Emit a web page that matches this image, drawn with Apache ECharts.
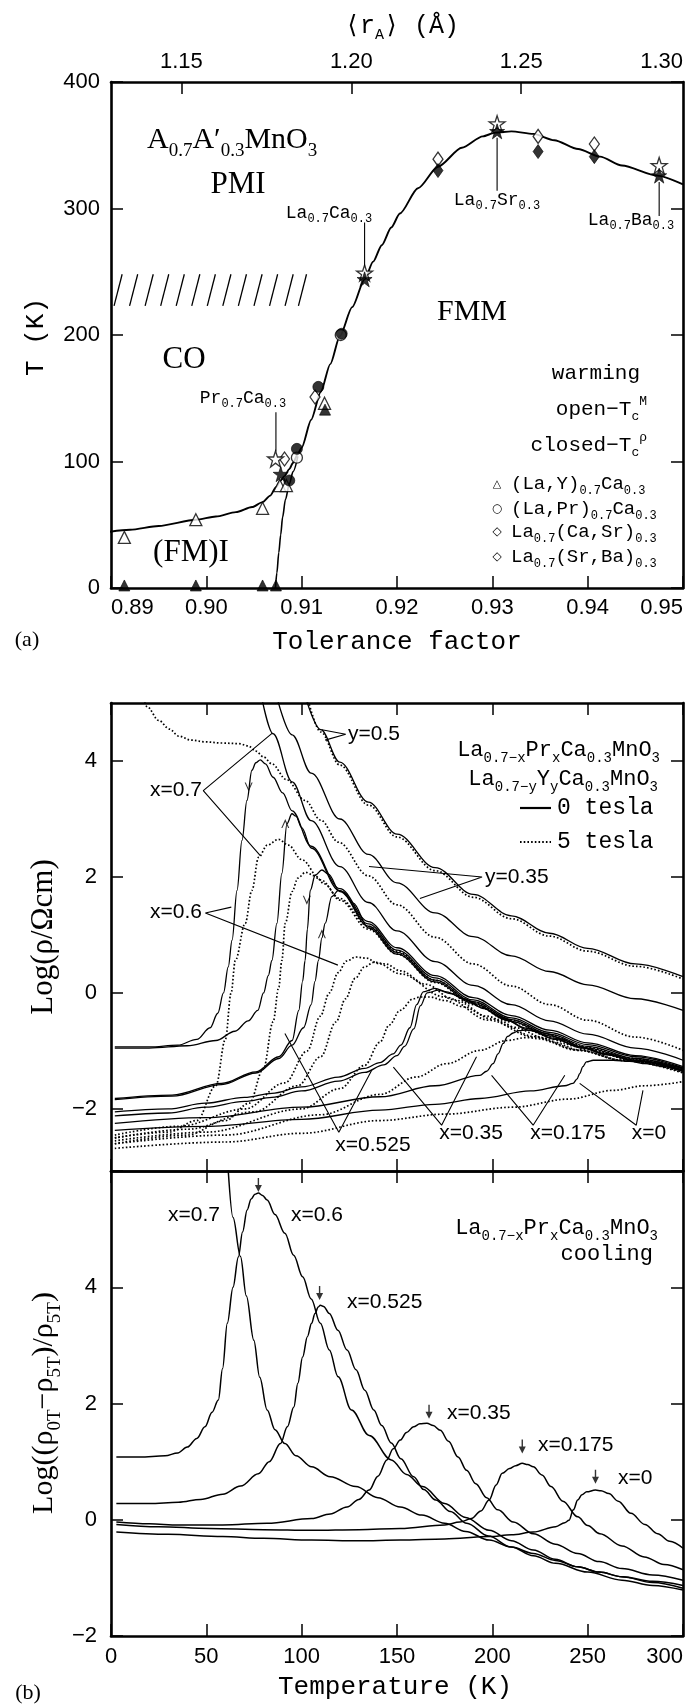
<!DOCTYPE html>
<html><head><meta charset="utf-8">
<script src="https://cdn.jsdelivr.net/npm/echarts@6/dist/echarts.min.js"></script>
<style>html,body{margin:0;padding:0;background:#fff}#c{width:696px;height:1708px}</style>
</head><body><div id="c"></div>
<script>
// ================= DATA =================
// Panel (a): Tc vs tolerance factor
const tolRange = [0.89, 0.95];
const tolTickLabels = ['0.89','0.90','0.91','0.92','0.93','0.94','0.95'];
const tRange = [0, 400];
const rARange = [1.1293, 1.2976];
const rATickValues = [1.15, 1.20, 1.25];
const rALabelValues = [1.15, 1.20, 1.25, 1.2976];
const rALabelTexts = ['1.15', '1.20', '1.25', '1.30'];

const tcCurveMain = [[0.8890,43.5],[0.8920,46],[0.8950,49],[0.8989,53.9],[0.9010,56.5],[0.9031,60],[0.9048,64],[0.9059,67.9],[0.9067,73],[0.9073,79.7],[0.9078,85],[0.9082,88.5],[0.9087,94],[0.9091,99],[0.9096,106],[0.9100,111],[0.9110,133],[0.9120,155],[0.9130,177],[0.9140,199],[0.9153,222],[0.9166,244],[0.9175,258],[0.9184,271],[0.9194,285],[0.9203,296],[0.9222,316],[0.9243,333],[0.9268,348],[0.9290,357],[0.9303,360],[0.9320,361],[0.9343,359],[0.9365,354],[0.9390,347],[0.9413,341],[0.9436,334],[0.9473,326],[0.9500,319]];
const tcCurveFM = [[0.90725,0],[0.9074,12],[0.9076,28],[0.9078,42],[0.9080,56],[0.9083,70],[0.9087,82],[0.9091,92],[0.9096,104]];
const openStars = [[0.90726,102],[0.9166,249],[0.9305,367],[0.9475,334]];
const filledStars = [[0.9078,90],[0.9166,244],[0.9305,361],[0.9475,326]];
const openTriangles = [[0.8914,40],[0.8989,54],[0.9059,63],[0.9077,81],[0.9084,81],[0.9124,146]];
const filledTriangles = [[0.8914,2],[0.8989,2],[0.9059,2],[0.9073,2],[0.91245,141]];
const openCircles = [[0.9095,103],[0.9141,200]];
const filledCircles = [[0.9087,85],[0.9095,110],[0.91175,159],[0.9142,201]];
const openDiamonds = [[0.9082,102],[0.9114,151],[0.9243,339],[0.9348,357],[0.9407,351]];
const filledDiamonds = [[0.9243,330],[0.9348,345],[0.9407,341]];
const hatchTops = [0.89117,0.89280,0.89443,0.89606,0.89769,0.89932,0.90095,0.90258,0.90421,0.90585,0.90748,0.90911,0.91051];
const hatchBand = [223, 248];
const hatchSlant = 0.00085;
const ptrLaCa = [[0.9166,289],[0.9166,254]];
const ptrLaSr = [[0.9305,356],[0.9305,314]];
const ptrLaBa = [[0.9475,321],[0.9475,294]];
const ptrPrCa = [[0.9073,139],[0.9073,108]];

// Panel (b) upper: Log(rho) vs T
const tempRange = [0, 300];
const upLogRange = [-3.07, 5];
const upLogTicks = [-2, 0, 2, 4];
const loLogRange = [-2, 6];

const rhoY05_0T = [[102,5.1],[110,4.54],[120,3.98],[135,3.29],[150,2.74],[170,2.16],[190,1.70],[210,1.33],[230,1.03],[250,0.77],[275,0.50],[300,0.28]];
const rhoY05_5T = [[103,5.1],[110,4.5],[120,3.93],[135,3.24],[150,2.69],[170,2.11],[190,1.65],[210,1.28],[230,0.98],[250,0.72],[275,0.46],[300,0.24]];
const rhoY035_0T = [[87,5.1],[95,4.45],[105,3.79],[120,3.0],[135,2.39],[150,1.9],[170,1.38],[190,0.97],[210,0.64],[230,0.37],[250,0.14],[275,-0.1],[300,-0.3]];
const rhoX07_0T = [[79,5.1],[85,4.47],[95,3.64],[105,2.97],[120,2.18],[135,1.56],[150,1.07],[170,0.54],[190,0.13],[210,-0.20],[230,-0.48],[250,-0.71],[275,-0.95],[300,-1.16]];
const rhoX06_cool = [[2,-0.93],[20,-0.93],[35,-0.9],[45,-0.8],[52,-0.6],[56,-0.35],[59,0.0],[61.5,0.45],[63.5,0.91],[66.1,1.77],[68.7,2.63],[71.3,3.32],[73.9,3.84],[76,3.97],[78.3,4.02],[81,3.95],[85,3.72],[90,3.45],[95,3.14],[105,2.53],[120,1.80],[135,1.23],[150,0.78],[170,0.30],[190,-0.08],[210,-0.39],[230,-0.64],[250,-0.86],[275,-1.08],[300,-1.27]];
const rhoX06_warm = [[2,-0.95],[20,-0.95],[40,-0.91],[55,-0.82],[65,-0.66],[72,-0.48],[77,-0.3],[80,0.0],[82.5,0.3],[84.4,0.56],[87,1.2],[89.6,2.06],[92.3,2.92],[94.9,3.09],[97,3.05],[100,2.85],[105,2.5],[120,1.76],[135,1.19],[150,0.74],[170,0.26],[190,-0.12],[210,-0.43],[230,-0.68],[250,-0.89],[275,-1.1],[300,-1.29]];
const rhoX0525_cool = [[2,-1.82],[32,-1.76],[58,-1.56],[76,-1.36],[88,-1.1],[95,-0.82],[98.5,-0.3],[100.5,0.2],[101.8,0.56],[103,1.1],[104.5,1.77],[107.1,2.03],[110.6,2.12],[114,2.05],[120,1.75],[135,1.15],[150,0.70],[170,0.22],[190,-0.15],[210,-0.46],[230,-0.71],[250,-0.92],[275,-1.13],[300,-1.31]];
const rhoX0525_warm = [[2,-1.84],[32,-1.78],[58,-1.58],[76,-1.38],[88,-1.13],[95,-0.9],[101,-0.6],[105,-0.2],[107,0.2],[108.8,0.56],[110.6,0.95],[112.3,1.2],[115.8,1.66],[119.3,1.77],[122,1.74],[127,1.55],[135,1.12],[150,0.67],[170,0.19],[190,-0.18],[210,-0.49],[230,-0.74],[250,-0.95],[275,-1.16],[300,-1.34]];
const rhoX035_0T_a = [[2,-2.05],[30,-2.0],[49.5,-1.9],[70,-1.8],[84.4,-1.73],[100,-1.62],[119.3,-1.45],[133,-1.3],[141,-1.2],[148,-1.05],[152,-0.9],[156.8,-0.6],[160.3,-0.2],[163.8,0.02],[169.9,0.08],[176,0.02],[185,-0.1],[193.5,-0.24],[205,-0.42],[218,-0.61],[232,-0.78],[246,-0.93],[260,-1.05],[275,-1.16],[300,-1.33]];
const rhoX035_0T_b = [[2,-2.12],[30,-2.07],[49.5,-1.97],[70,-1.87],[84.4,-1.8],[100,-1.69],[119.3,-1.52],[133,-1.37],[143,-1.24],[150,-1.08],[154,-0.92],[158.8,-0.62],[162.3,-0.22],[165.8,0.0],[171.9,0.05],[178,-0.01],[187,-0.13],[195.5,-0.27],[206,-0.45],[219,-0.64],[233,-0.8],[247,-0.95],[261,-1.07],[276,-1.18],[300,-1.35]];
const rhoX0175_0T = [[2,-2.25],[50,-2.15],[100,-1.97],[141,-1.79],[170,-1.6],[193.5,-1.42],[197,-1.35],[200.4,-1.22],[203,-1.05],[205.7,-0.87],[208,-0.75],[210.9,-0.69],[214,-0.65],[217.9,-0.64],[223,-0.66],[228.4,-0.7],[237,-0.8],[245.8,-0.93],[260,-1.06],[275,-1.17],[300,-1.3]];
const rhoX0_0T = [[2,-2.37],[50,-2.3],[100,-2.18],[141,-2.02],[170,-1.92],[193.5,-1.82],[220,-1.69],[238,-1.6],[242.3,-1.56],[244.5,-1.48],[245.8,-1.39],[247.5,-1.27],[249.3,-1.19],[253,-1.16],[263.3,-1.16],[272,-1.18],[280.7,-1.22],[290,-1.27],[300,-1.33]];
const rhoX07_5T_a = [[16,5.2],[19.1,4.93],[25,4.7],[30.7,4.55],[35.5,4.43],[42,4.36],[49.5,4.33],[58,4.31],[67,4.3],[72,4.26],[76,4.17],[80,4.07],[84.4,3.95],[92,3.68],[101.8,3.32],[110,2.98],[119.3,2.6],[135,2.02],[150,1.52],[170,0.96],[190,0.5],[210,0.12],[230,-0.2],[250,-0.47],[275,-0.76],[300,-0.99]];
const rhoX07_5T_b = [[2,-2.5],[30,-2.4],[45,-2.2],[55,-1.6],[60,-0.8],[63,0.0],[65.2,0.56],[70.4,1.2],[73.9,1.77],[77.4,2.34],[82,2.55],[87.9,2.65],[93,2.55],[100,2.3],[110,1.95],[120,1.63],[135,1.15],[150,0.72],[170,0.22],[190,-0.16],[210,-0.47],[230,-0.72],[250,-0.94],[275,-1.14],[300,-1.3]];
const rhoX06_5T = [[2,-2.6],[40,-2.45],[60,-2.2],[72.6,-1.9],[80,-1.3],[85,-0.5],[88,0.1],[89.6,0.56],[91.4,1.2],[95,1.75],[98,1.98],[102,2.08],[107,2.02],[112,1.88],[120,1.6],[135,1.1],[150,0.67],[170,0.18],[190,-0.2],[210,-0.5],[230,-0.75],[250,-0.97],[275,-1.18],[300,-1.35]];
const rhoX0525_5T_a = [[2,-2.45],[35.4,-2.3],[70.3,-2.0],[91.2,-1.55],[102.9,-1.0],[109.8,-0.4],[114.5,0.0],[119.1,0.35],[123.5,0.55],[128.5,0.62],[134,0.6],[140,0.51],[151.7,0.33],[175,-0.07],[198.3,-0.47],[221.5,-0.76],[244.8,-0.99],[268,-1.16],[300,-1.36]];
const rhoX0525_5T_b = [[2,-2.5],[40,-2.35],[75,-2.05],[98,-1.6],[110,-1.1],[118,-0.5],[123,-0.1],[128,0.25],[133,0.45],[138,0.53],[144,0.5],[152,0.38],[165,0.15],[180,-0.12],[200,-0.45],[222,-0.75],[245,-0.98],[268,-1.16],[300,-1.38]];
const rhoX035_5T = [[2,-2.55],[50,-2.4],[100,-2.0],[120,-1.65],[133,-1.25],[141,-0.85],[146,-0.55],[151.6,-0.3],[158.6,-0.1],[162,-0.07],[167.3,-0.07],[175,-0.13],[184.8,-0.24],[197,-0.4],[210.9,-0.59],[228,-0.78],[245.8,-0.93],[270,-1.12],[300,-1.3]];
const rhoX0175_5T = [[2,-2.6],[60,-2.45],[110,-2.1],[141,-1.75],[160,-1.45],[176,-1.22],[193.5,-0.99],[207.4,-0.82],[217.9,-0.77],[225,-0.79],[232,-0.85],[245.8,-0.99],[270,-1.17],[300,-1.36]];
const rhoX0_5T = [[2,-2.68],[60,-2.57],[100,-2.42],[141,-2.2],[175,-2.09],[210.9,-1.97],[240,-1.83],[263.3,-1.68],[280,-1.6],[300,-1.53]];
const arrowsDown = [[72.2,3.55],[102.7,1.6]];
const arrowsUp = [[91.4,2.92],[110.6,1.02]];
const ptrX07 = [[84.6,4.48],[48.4,3.49],[78.3,2.37]];
const ptrX06 = [[63.1,1.48],[49.5,1.38],[119,0.48]];
const ptrY035 = [[135.3,2.18],[194.6,2.0],[162,1.63]];
const ptrY05 = [[110.6,4.54],[123.1,4.46],[112.3,4.36]];
const vX0525 = [[91.2,-0.7],[119.5,-2.4],[136.8,-1.33]];
const vX035 = [[148.1,-1.28],[173.4,-2.28],[191.7,-1.1]];
const vX0175 = [[199.6,-1.42],[221.4,-2.28],[238,-1.42]];
const vX0 = [[245.8,-1.56],[275.5,-2.28],[279,-1.68]];

// Panel (b) lower: Log((rho0T-rho5T)/rho5T) vs T, cooling
const mrX07 = [[61.4,6.05],[64,5.2],[67.9,4.53],[71,3.85],[74.9,3.09],[78,2.45],[81.9,1.89],[86,1.55],[91.2,1.31],[97,1.1],[105.2,0.91],[115,0.74],[128.4,0.57],[140,0.38],[151.7,0.22],[163,0.08],[175,-0.06],[186,-0.2],[198.3,-0.35],[210,-0.47],[221.5,-0.58],[233,-0.7],[244.8,-0.81],[256,-0.9],[268,-0.98],[284,-1.08],[300,-1.18]];
const mrX06 = [[2.8,1.08],[15,1.08],[28.4,1.1],[35,1.15],[40,1.25],[45,1.4],[49.3,1.6],[53,1.85],[56.3,2.06],[58.5,2.6],[61,3.38],[64,4.0],[66.8,4.52],[69,4.95],[71.4,5.33],[73.5,5.52],[75.5,5.6],[77.3,5.62],[79.5,5.58],[81.9,5.5],[86,5.25],[91.2,4.93],[95.8,4.55],[100.5,4.18],[105,3.8],[109.8,3.38],[114.5,2.92],[119.1,2.46],[126.1,1.89],[135.4,1.45],[147,1.03],[155,0.78],[163.4,0.57],[175,0.28],[186,0.04],[198.3,-0.18],[210,-0.36],[221.5,-0.52],[233,-0.68],[244.8,-0.81],[256,-0.9],[268,-0.98],[284,-1.06],[300,-1.13]];
const mrX0525 = [[2.8,0.28],[20,0.28],[35.4,0.3],[47,0.35],[58.6,0.44],[68,0.58],[77.3,0.79],[83,1.0],[88.9,1.31],[92.5,1.6],[95.9,1.94],[98,2.35],[100.5,2.8],[103,3.15],[105.2,3.38],[107,3.55],[108.7,3.66],[109.8,3.69],[111.5,3.67],[114.5,3.55],[119,3.26],[123.8,2.92],[128.5,2.58],[133.1,2.23],[137.8,1.89],[142,1.62],[147,1.32],[152,1.05],[158.7,0.74],[164,0.52],[170.3,0.34],[178,0.14],[186.6,-0.06],[198,-0.28],[209.9,-0.47],[221.5,-0.62],[233.2,-0.75],[250,-0.9],[268,-1.04],[284,-1.13],[300,-1.21]];
const mrX035 = [[2.8,-0.04],[20,-0.07],[35.4,-0.09],[58.6,-0.09],[81.9,-0.06],[105.2,0.02],[115,0.1],[123.8,0.22],[130,0.35],[135.4,0.51],[140,0.75],[144.7,1.03],[148,1.22],[151.7,1.37],[155,1.5],[158.7,1.6],[162,1.65],[165.7,1.66],[169,1.62],[172.7,1.54],[177,1.35],[182,1.08],[186.5,0.85],[191.3,0.62],[197,0.38],[202.9,0.17],[211,-0.04],[221.5,-0.24],[233,-0.42],[244.8,-0.58],[256,-0.72],[268,-0.84],[284,-0.95],[300,-1.04]];
const mrX0175 = [[2.8,-0.08],[25,-0.12],[51.7,-0.15],[80,-0.17],[105.2,-0.18],[130,-0.17],[151.7,-0.15],[175,-0.09],[183,-0.04],[189,0.02],[194,0.15],[198.3,0.34],[202,0.6],[205.2,0.8],[209,0.88],[212.2,0.93],[215.7,0.97],[218.5,0.95],[221.5,0.91],[226,0.77],[230.8,0.57],[237,0.32],[244.8,0.05],[250,-0.1],[256.4,-0.24],[268,-0.45],[279.7,-0.64],[290,-0.77],[300,-0.86]];
const mrX0 = [[2.8,-0.21],[30,-0.25],[58.6,-0.29],[80,-0.32],[105.2,-0.35],[130,-0.36],[151.7,-0.35],[175,-0.33],[198.3,-0.29],[210,-0.26],[221.5,-0.21],[233.2,-0.12],[238,-0.05],[240.2,-0.01],[242.5,0.17],[244.8,0.34],[247,0.43],[249.5,0.48],[254.1,0.51],[257,0.5],[261.1,0.45],[266,0.32],[272.7,0.11],[280,-0.08],[286.7,-0.24],[293,-0.37],[300,-0.49]];
const peakArrows = [[77.3,5.76],[109.4,3.9],[166.8,1.86],[215.7,1.26],[254.1,0.74]];

// ================= CHART =================
const SANS = 'Liberation Sans, Arial, sans-serif';
const MONO = 'Liberation Mono, Courier New, monospace';
const SERIF = 'Liberation Serif, Times New Roman, serif';
const chart = echarts.init(document.getElementById('c'), null, {renderer: 'canvas', width: 696, height: 1708});

const labelStyle = {show: true, color: '#000', fontFamily: SANS, fontSize: 22};
function ax(o) {
  return Object.assign({
    type: 'value', scale: false,
    axisLine: {show: true, onZero: false, lineStyle: {color: '#000', width: 2.6}},
    axisTick: {show: true, inside: true, length: 12, lineStyle: {color: '#000', width: 1.5}},
    splitLine: {show: false},
    axisLabel: {show: false}
  }, o);
}
const minus = v => (v < 0 ? '\u2212' + Math.abs(v) : String(v));
const tickStyle = {color: '#000', width: 1.5};

const xAxis = [
  ax({gridIndex: 0, position: 'bottom', min: tolRange[0], max: tolRange[1], interval: 0.01,
      axisLabel: Object.assign({}, labelStyle, {margin: 9, alignMinLabel: 'left', alignMaxLabel: 'right',
        formatter: v => tolTickLabels[Math.round((v - tolRange[0]) / 0.01)]})}),
  ax({gridIndex: 0, position: 'top', min: rARange[0], max: rARange[1],
      axisTick: {show: true, inside: true, length: 12, customValues: rATickValues, lineStyle: tickStyle},
      axisLabel: Object.assign({}, labelStyle, {margin: 9, customValues: rALabelValues, alignMaxLabel: 'right',
        formatter: v => rALabelTexts[rALabelValues.findIndex(u => Math.abs(u - v) < 1e-6)]})}),
  ax({gridIndex: 1, position: 'bottom', min: tempRange[0], max: tempRange[1], interval: 50}),
  ax({gridIndex: 1, position: 'top', min: tempRange[0], max: tempRange[1], interval: 50}),
  ax({gridIndex: 2, position: 'bottom', min: tempRange[0], max: tempRange[1], interval: 50,
      axisLabel: Object.assign({}, labelStyle, {margin: 10, alignMaxLabel: 'right'})}),
  ax({gridIndex: 2, position: 'top', min: tempRange[0], max: tempRange[1], interval: 50})
];
const yAxis = [
  ax({gridIndex: 0, position: 'left', min: tRange[0], max: tRange[1], interval: 100,
      axisLabel: Object.assign({}, labelStyle, {margin: 11})}),
  ax({gridIndex: 0, position: 'right', min: tRange[0], max: tRange[1], interval: 100}),
  ax({gridIndex: 1, position: 'left', min: upLogRange[0], max: upLogRange[1],
      axisTick: {show: true, inside: true, length: 12, customValues: upLogTicks, lineStyle: tickStyle},
      axisLabel: Object.assign({}, labelStyle, {margin: 14, customValues: upLogTicks, formatter: minus})}),
  ax({gridIndex: 1, position: 'right', min: upLogRange[0], max: upLogRange[1],
      axisTick: {show: true, inside: true, length: 12, customValues: upLogTicks, lineStyle: tickStyle}}),
  ax({gridIndex: 2, position: 'left', min: loLogRange[0], max: loLogRange[1], interval: 2,
      axisLabel: Object.assign({}, labelStyle, {margin: 14, formatter: v => (v >= loLogRange[1] ? '' : minus(v))})}),
  ax({gridIndex: 2, position: 'right', min: loLogRange[0], max: loLogRange[1], interval: 2})
];

const series = [];
function addLine(data, xi, yi, o = {}) {
  series.push({type: 'line', xAxisIndex: xi, yAxisIndex: yi, data, symbol: 'none', showSymbol: false,
    smooth: o.smooth === undefined ? 0.35 : o.smooth, smoothMonotone: o.smooth === false ? undefined : 'x',
    clip: true, silent: true, z: o.z || 3,
    lineStyle: {color: '#000', width: o.w || 1.3, type: o.dot ? [1.6, 2.1] : 'solid'}});
}
function addScatter(data, symbol, size, filled, z) {
  series.push({type: 'scatter', xAxisIndex: 0, yAxisIndex: 0, data, symbol, symbolSize: size,
    silent: true, z: z, clip: false,
    itemStyle: filled ? {color: '#000', borderColor: '#000', borderWidth: 0.8}
                      : {color: '#fff', borderColor: '#000', borderWidth: 1.3}});
}
const STAR = 'path://M12,0 L14.9,8.6 L24,8.6 L16.6,14 L19.4,22.8 L12,17.4 L4.6,22.8 L7.4,14 L0,8.6 L9.1,8.6 Z';

// Panel (a)
addLine(tcCurveMain, 0, 0, {w: 1.9, smooth: 0.25});
addLine(tcCurveFM, 0, 0, {w: 1.6, smooth: 0.3});
[ptrLaCa, ptrLaSr, ptrLaBa, ptrPrCa].forEach(p => addLine(p, 0, 0, {smooth: false, w: 1.1}));
series.push({type: 'custom', xAxisIndex: 0, yAxisIndex: 0, silent: true, z: 3, clip: true,
  data: hatchTops.map(t => [t]),
  renderItem: (params, api) => {
    const t = api.value(0);
    const a = api.coord([t - hatchSlant, hatchBand[0]]);
    const b = api.coord([t, hatchBand[1]]);
    return {type: 'line', shape: {x1: a[0], y1: a[1], x2: b[0], y2: b[1]}, style: {stroke: '#000', lineWidth: 1.3}};
  }});
addScatter(openTriangles, 'triangle', 12, false, 5);
addScatter(openCircles, 'circle', 11, false, 5);
addScatter(openDiamonds, 'diamond', [10, 14], false, 5);
addScatter(openStars, STAR, 16, false, 5);
addScatter(filledTriangles, 'triangle', 11, true, 6);
addScatter(filledCircles, 'circle', 11, true, 6);
addScatter(filledDiamonds, 'diamond', [10, 14], true, 6);
addScatter(filledStars, STAR, 15, true, 6);

// Panel (b) upper
[rhoY05_0T, rhoY035_0T, rhoX07_0T, rhoX06_cool, rhoX06_warm, rhoX0525_cool, rhoX0525_warm,
 rhoX035_0T_a, rhoX035_0T_b, rhoX0175_0T, rhoX0_0T].forEach(d => addLine(d, 2, 2));
[rhoY05_5T, rhoX07_5T_a, rhoX07_5T_b, rhoX06_5T, rhoX0525_5T_a, rhoX0525_5T_b,
 rhoX035_5T, rhoX0175_5T, rhoX0_5T].forEach(d => addLine(d, 2, 2, {dot: true, w: 1.7}));
[ptrX07, ptrX06, ptrY035, ptrY05, vX0525, vX035, vX0175, vX0].forEach(p => addLine(p, 2, 2, {smooth: false, w: 1.1}));
const CHEV = 'path://M0,0 L5,9 L10,0 L8.6,0 L5,6.4 L1.4,0 Z';
series.push({type: 'scatter', xAxisIndex: 2, yAxisIndex: 2, data: arrowsDown, symbol: CHEV, symbolSize: [8, 9], silent: true, z: 6, itemStyle: {color: '#000'}});
series.push({type: 'scatter', xAxisIndex: 2, yAxisIndex: 2, data: arrowsUp, symbol: CHEV, symbolSize: [8, 9], symbolRotate: 180, silent: true, z: 6, itemStyle: {color: '#000'}});

// Panel (b) lower
[mrX07, mrX06, mrX0525, mrX035, mrX0175, mrX0].forEach(d => addLine(d, 4, 4, {w: 1.5}));
const DOWN = 'path://M4,0 L6,0 L6,9 L10,9 L5,18 L0,9 L4,9 Z';
series.push({type: 'scatter', xAxisIndex: 4, yAxisIndex: 4, data: peakArrows, symbol: DOWN, symbolSize: [7, 14], silent: true, z: 6, itemStyle: {color: '#000'}});

// ---------- text (graphic) ----------
const G = [];
function rich(fam, size, sub) {
  return {
    m: {fontFamily: fam, fontSize: size, lineHeight: Math.round(size * 1.35), verticalAlign: 'middle', fill: '#000'},
    s: {fontFamily: fam, fontSize: sub, lineHeight: sub, verticalAlign: 'bottom', fill: '#000'},
    p: {fontFamily: fam, fontSize: sub, lineHeight: sub, verticalAlign: 'top', fill: '#000'}
  };
}
function T(x, y, text, o = {}) {
  const al = o.align || 'center';
  G.push({type: 'text', x, y, rotation: o.rot || 0, z: 100, silent: true,
    style: {text, fill: '#000', fontFamily: o.fam || SANS, fontSize: o.size || 20,
      align: al, textAlign: al, verticalAlign: 'middle', textVerticalAlign: 'middle',
      rich: o.rich}});
}
// axis titles
T(402, 26, '{m|\u27E8r}{s|A}{m|\u27E9 (\u00C5)}', {rich: rich(MONO, 25, 15)});
T(36, 337, 'T (K)', {fam: MONO, size: 26, rot: Math.PI / 2});
T(397, 642, 'Tolerance factor', {fam: MONO, size: 26});
T(27, 640, '(a)', {fam: SERIF, size: 22});
T(44, 937, 'Log(\u03C1/\u03A9cm)', {fam: SERIF, size: 31, rot: Math.PI / 2});
T(44, 1403, '{m|Log((\u03C1}{s|0T}{m|\u2212\u03C1}{s|5T}{m|)/\u03C1}{s|5T}{m|)}', {rot: Math.PI / 2, rich: rich(SERIF, 30, 19)});
T(395, 1687, 'Temperature (K)', {fam: MONO, size: 26});
T(28, 1693, '(b)', {fam: SERIF, size: 22});

// panel (a) annotations
const R30 = rich(SERIF, 30, 19);
T(147, 140, '{m|A}{s|0.7}{m|A\u2032}{s|0.3}{m|MnO}{s|3}', {align: 'left', rich: R30});
T(238, 185, 'PMI', {fam: SERIF, size: 31});
T(472, 312, 'FMM', {fam: SERIF, size: 30});
T(184, 360, 'CO', {fam: SERIF, size: 31});
T(191, 553, '(FM)I', {fam: SERIF, size: 31});
const RS = rich(MONO, 18, 12);
T(329, 213, '{m|La}{s|0.7}{m|Ca}{s|0.3}', {rich: RS});
T(497, 200, '{m|La}{s|0.7}{m|Sr}{s|0.3}', {rich: RS});
T(631, 220, '{m|La}{s|0.7}{m|Ba}{s|0.3}', {rich: RS});
T(243, 398, '{m|Pr}{s|0.7}{m|Ca}{s|0.3}', {rich: RS});
T(640, 373, 'warming', {fam: MONO, size: 21, align: 'right'});
const RL = rich(MONO, 21, 13);
T(647, 409, '{m|open\u2212T}{s|c}{p|M}', {align: 'right', rich: RL});
T(647, 445, '{m|closed\u2212T}{s|c}{p|\u03C1}', {align: 'right', rich: RL});
const RG = rich(MONO, 19, 12);
T(511, 484, '{m|(La,Y)}{s|0.7}{m|Ca}{s|0.3}', {align: 'left', rich: RG});
T(511, 509, '{m|(La,Pr)}{s|0.7}{m|Ca}{s|0.3}', {align: 'left', rich: RG});
T(511, 532, '{m|La}{s|0.7}{m|(Ca,Sr)}{s|0.3}', {align: 'left', rich: RG});
T(511, 557, '{m|La}{s|0.7}{m|(Sr,Ba)}{s|0.3}', {align: 'left', rich: RG});
T(497, 484, '\u25B3', {fam: 'DejaVu Sans', size: 11});
T(497, 509, '\u25CB', {fam: 'DejaVu Sans', size: 12});
T(497, 532, '\u25C7', {fam: 'DejaVu Sans', size: 12});
T(497, 557, '\u25C7', {fam: 'DejaVu Sans', size: 12});

// panel (b) upper annotations
const RB = rich(MONO, 22, 14);
T(660, 750, '{m|La}{s|0.7\u2212x}{m|Pr}{s|x}{m|Ca}{s|0.3}{m|MnO}{s|3}', {align: 'right', rich: RB});
T(658, 779, '{m|La}{s|0.7\u2212y}{m|Y}{s|y}{m|Ca}{s|0.3}{m|MnO}{s|3}', {align: 'right', rich: RB});
T(557, 808, '0 tesla', {fam: MONO, size: 23, align: 'left'});
T(557, 842, '5 tesla', {fam: MONO, size: 23, align: 'left'});
G.push({type: 'line', shape: {x1: 520, y1: 808, x2: 551, y2: 808}, style: {stroke: '#000', lineWidth: 2.2}, silent: true});
G.push({type: 'line', shape: {x1: 520, y1: 842, x2: 551, y2: 842}, style: {stroke: '#000', lineWidth: 1.8, lineDash: [1.6, 2.1]}, silent: true});
T(202, 790, 'x=0.7', {size: 21, align: 'right'});
T(202, 912, 'x=0.6', {size: 21, align: 'right'});
T(485, 877, 'y=0.35', {size: 21, align: 'left'});
T(348, 734, 'y=0.5', {size: 21, align: 'left'});
T(373, 1145, 'x=0.525', {size: 21});
T(471, 1133, 'x=0.35', {size: 21});
T(568, 1133, 'x=0.175', {size: 21});
T(649, 1133, 'x=0', {size: 21});

// panel (b) lower annotations
T(194, 1215, 'x=0.7', {size: 21});
T(317, 1215, 'x=0.6', {size: 21});
T(347, 1302, 'x=0.525', {size: 21, align: 'left'});
T(447, 1413, 'x=0.35', {size: 21, align: 'left'});
T(538, 1445, 'x=0.175', {size: 21, align: 'left'});
T(618, 1478, 'x=0', {size: 21, align: 'left'});
T(658, 1228, '{m|La}{s|0.7\u2212x}{m|Pr}{s|x}{m|Ca}{s|0.3}{m|MnO}{s|3}', {align: 'right', rich: RB});
T(653, 1254, 'cooling', {fam: MONO, size: 22, align: 'right'});

chart.setOption({
  animation: false,
  backgroundColor: '#fff',
  grid: [
    {left: 111, top: 82, width: 572, height: 506},
    {left: 111, top: 703, width: 572, height: 468},
    {left: 111, top: 1171, width: 572, height: 465}
  ],
  xAxis, yAxis, series, graphic: G
});
</script></body></html>
